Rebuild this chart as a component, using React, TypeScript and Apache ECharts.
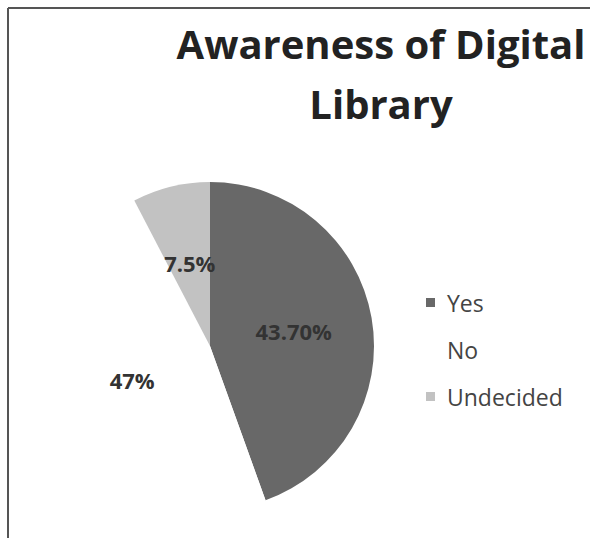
import React, { useEffect, useRef } from "react";
import * as echarts from "echarts";

const categories = ["Yes", "No", "Undecided"];
const values = [43.7, 47, 7.5];
const labels = ["43.70%", "47%", "7.5%"];
const colors = ["#686868", "#ffffff", "#c2c2c2"];
const titleText = "Awareness of Digital\nLibrary";

export default function App() {
  const ref = useRef<HTMLDivElement>(null);
  useEffect(() => {
    if (!ref.current) return;
    const chart = echarts.init(ref.current, null, { renderer: "svg" });
    const font = "'Open Sans', 'Noto Sans', sans-serif";
    chart.setOption({
      animation: false,
      backgroundColor: "#ffffff",
      title: {
        text: titleText,
        left: 376,
        top: 8,
        textAlign: "center",
        textStyle: {
          fontFamily: font,
          fontSize: 40,
          fontWeight: "bold",
          color: "#222222",
          lineHeight: 60,
        },
      },
      legend: {
        orient: "vertical",
        left: 421,
        top: 286,
        itemWidth: 9,
        itemHeight: 9,
        itemGap: 24,
        icon: "rect",
        textStyle: {
          fontFamily: font,
          fontSize: 23,
          color: "#444444",
          padding: [0, 0, 0, 7],
        },
        data: categories,
      },
      graphic: [
        {
          type: "line",
          shape: { x1: 8, y1: 8, x2: 590, y2: 8 },
          style: { stroke: "#555555", lineWidth: 2 },
        },
        {
          type: "line",
          shape: { x1: 8, y1: 8, x2: 8, y2: 538 },
          style: { stroke: "#555555", lineWidth: 2 },
        },
      ],
      series: [
        {
          type: "pie",
          center: [210, 346],
          radius: [0, 164],
          startAngle: 90,
          clockwise: true,
          label: {
            show: true,
            position: "inside",
            fontFamily: font,
            fontSize: 22,
            fontWeight: "bold",
            color: "#333333",
            formatter: (p: any) => labels[p.dataIndex],
          },
          labelLine: { show: false },
          itemStyle: { borderWidth: 0 },
          emphasis: { disabled: true },
          data: categories.map((name, i) => ({
            name,
            value: values[i],
            itemStyle: { color: colors[i] },
          })),
        },
      ],
    });
    return () => chart.dispose();
  }, []);
  return (
    <div
      ref={ref}
      style={{ position: "absolute", left: 0, top: 0, width: 590, height: 538 }}
    />
  );
}
